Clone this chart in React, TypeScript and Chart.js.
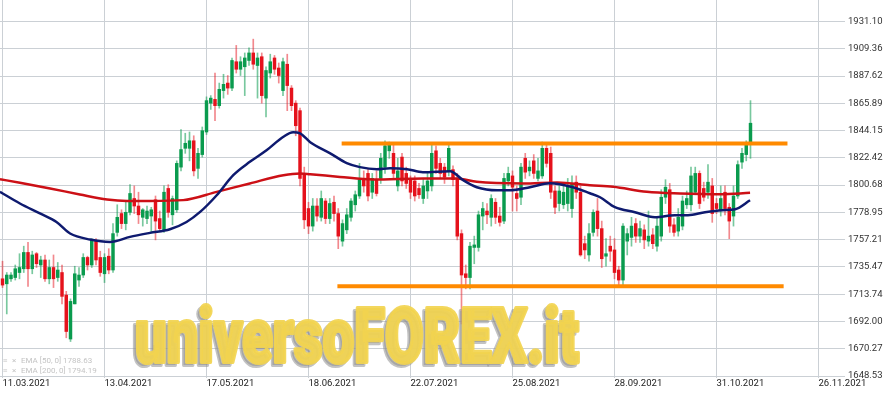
import React, { useEffect, useRef } from 'react';
import { Chart, registerables } from 'chart.js';

Chart.register(...registerables);

// ---- data ----
const dateTickIdx = [0, 24, 48, 72, 96, 120, 144, 168, 192];
const dateLabels = ['11.03.2021', '13.04.2021', '17.05.2021', '18.06.2021', '22.07.2021', '25.08.2021', '28.09.2021', '31.10.2021', '26.11.2021'];
const priceTicks = [1648.53, 1670.27, 1692.0, 1713.74, 1735.47, 1757.21, 1778.95, 1800.68, 1822.42, 1844.15, 1865.89, 1887.62, 1909.36, 1931.1];

const opens = [
  1726, 1722, 1726, 1727, 1731, 1734, 1747, 1734, 1746, 1737,
  1741, 1726, 1735, 1727, 1731, 1713, 1678, 1706, 1725, 1729,
  1743, 1737, 1756, 1743, 1730, 1744, 1733, 1763, 1778, 1770,
  1779, 1790, 1784, 1775, 1774, 1776, 1789, 1774, 1765, 1798,
  1777, 1781, 1815, 1830, 1830, 1836, 1814, 1825, 1843, 1866,
  1869, 1864, 1876, 1882, 1878, 1899, 1893, 1895, 1900, 1906,
  1896, 1903, 1870, 1890, 1902, 1894, 1876, 1897, 1878, 1866,
  1860, 1810, 1782, 1768, 1784, 1775, 1788, 1774, 1787, 1778,
  1756, 1765, 1775, 1785, 1792, 1806, 1810, 1795, 1805, 1806,
  1815, 1828, 1826, 1800, 1823, 1810, 1806, 1804, 1798, 1790,
  1796, 1800, 1828, 1818, 1815, 1812, 1813, 1806, 1762, 1730,
  1727, 1751, 1751, 1776, 1780, 1775, 1787, 1776, 1772, 1804,
  1808, 1794, 1791, 1822, 1812, 1820, 1806, 1808, 1830, 1826,
  1796, 1786, 1785, 1786, 1782, 1803, 1795, 1754, 1745, 1763,
  1780, 1766, 1744, 1752, 1749, 1733, 1725, 1756, 1759, 1770,
  1760, 1765, 1756, 1761, 1752, 1760, 1791, 1797, 1769, 1764,
  1768, 1785, 1785, 1795, 1810, 1798, 1795, 1800, 1786, 1781,
  1795, 1783, 1776, 1792, 1819, 1825, 1834,
];
const highs = [
  1740, 1731, 1731, 1737, 1746, 1752, 1755, 1748, 1747, 1744,
  1745, 1741, 1745, 1739, 1737, 1716, 1710, 1736, 1735, 1746,
  1744, 1758, 1758, 1748, 1746, 1750, 1770, 1785, 1781, 1788,
  1801, 1800, 1795, 1782, 1784, 1783, 1792, 1780, 1800, 1801,
  1792, 1820, 1845, 1842, 1843, 1840, 1830, 1847, 1871, 1872,
  1890, 1882, 1889, 1888, 1902, 1912, 1903, 1906, 1910, 1917,
  1906, 1906, 1895, 1905, 1904, 1898, 1902, 1905, 1880, 1868,
  1862, 1815, 1787, 1790, 1790, 1796, 1790, 1790, 1792, 1782,
  1773, 1782, 1790, 1796, 1818, 1812, 1814, 1810, 1812, 1826,
  1836, 1835, 1833, 1822, 1826, 1815, 1808, 1808, 1802, 1806,
  1810, 1834, 1832, 1822, 1818, 1834, 1816, 1810, 1765, 1737,
  1755, 1760, 1780, 1787, 1786, 1793, 1790, 1783, 1810, 1815,
  1812, 1800, 1818, 1826, 1820, 1825, 1822, 1835, 1834, 1831,
  1800, 1800, 1800, 1806, 1808, 1808, 1800, 1760, 1770, 1781,
  1790, 1772, 1758, 1760, 1758, 1736, 1770, 1766, 1775, 1774,
  1772, 1769, 1780, 1766, 1775, 1797, 1805, 1802, 1774, 1782,
  1792, 1796, 1815, 1815, 1812, 1803, 1817, 1806, 1790, 1800,
  1800, 1786, 1800, 1820, 1830, 1836, 1868,
];
const lows = [
  1719, 1698, 1724, 1725, 1726, 1731, 1720, 1730, 1735, 1727,
  1724, 1722, 1719, 1724, 1706, 1679, 1676, 1706, 1720, 1727,
  1733, 1735, 1737, 1728, 1723, 1730, 1731, 1760, 1766, 1765,
  1777, 1778, 1770, 1768, 1770, 1763, 1757, 1764, 1763, 1775,
  1769, 1779, 1812, 1826, 1820, 1808, 1806, 1823, 1841, 1861,
  1852, 1862, 1870, 1873, 1876, 1890, 1888, 1872, 1896, 1893,
  1870, 1866, 1855, 1886, 1889, 1882, 1872, 1860, 1860, 1840,
  1800, 1766, 1762, 1764, 1772, 1772, 1770, 1770, 1772, 1750,
  1752, 1762, 1772, 1780, 1790, 1795, 1788, 1790, 1792, 1802,
  1810, 1822, 1806, 1796, 1800, 1798, 1790, 1788, 1790, 1786,
  1790, 1796, 1810, 1806, 1802, 1808, 1800, 1757, 1690, 1718,
  1718, 1738, 1748, 1765, 1770, 1768, 1770, 1768, 1770, 1800,
  1780, 1780, 1785, 1806, 1808, 1806, 1804, 1806, 1815, 1790,
  1778, 1780, 1782, 1780, 1775, 1790, 1744, 1742, 1740, 1760,
  1760, 1735, 1736, 1740, 1726, 1720, 1721, 1745, 1752, 1755,
  1755, 1750, 1752, 1750, 1748, 1756, 1786, 1763, 1760, 1760,
  1765, 1782, 1780, 1793, 1782, 1788, 1790, 1771, 1778, 1776,
  1777, 1758, 1768, 1790, 1814, 1820, 1822,
];
const closes = [
  1721, 1729, 1729, 1734, 1735, 1747, 1734, 1745, 1738, 1741,
  1726, 1735, 1726, 1733, 1712, 1684, 1708, 1730, 1729, 1743,
  1737, 1757, 1741, 1731, 1743, 1733, 1762, 1775, 1770, 1779,
  1794, 1784, 1777, 1781, 1780, 1781, 1772, 1766, 1795, 1779,
  1790, 1818, 1829, 1834, 1836, 1812, 1826, 1844, 1868, 1870,
  1864, 1877, 1881, 1878, 1900, 1893, 1899, 1902, 1906, 1897,
  1902, 1872, 1892, 1899, 1893, 1888, 1899, 1880, 1864, 1848,
  1806, 1773, 1768, 1784, 1776, 1790, 1774, 1786, 1778, 1760,
  1770, 1777, 1788, 1793, 1805, 1800, 1792, 1806, 1794, 1822,
  1832, 1833, 1810, 1812, 1804, 1802, 1795, 1792, 1793, 1800,
  1804, 1826, 1814, 1810, 1807, 1830, 1805, 1760, 1729, 1727,
  1752, 1753, 1777, 1782, 1777, 1790, 1775, 1771, 1806, 1810,
  1799, 1790, 1815, 1811, 1815, 1810, 1812, 1830, 1818, 1795,
  1783, 1796, 1795, 1800, 1802, 1795, 1745, 1749, 1762, 1779,
  1766, 1742, 1746, 1748, 1731, 1725, 1768, 1762, 1768, 1760,
  1766, 1757, 1760, 1754, 1768, 1791, 1799, 1768, 1763, 1775,
  1788, 1790, 1808, 1810, 1786, 1791, 1803, 1778, 1782, 1790,
  1782, 1772, 1792, 1817, 1826, 1833, 1850,
];

const ema50Idx = [-0.6, 4.1, 8.8, 12.7, 15.9, 20.6, 25.3, 30, 34.7, 39.4, 43.3, 46.5, 50.4, 54.3, 58.2, 62.2, 66.1, 68.4, 70, 72.4, 77, 81, 84.1, 88.1, 91.2, 95.2, 98.9, 105.3, 108.4, 111.6, 116.4, 119.4, 124.1, 128.8, 134.2, 138.2, 140.6, 144.1, 148.8, 153.5, 158.2, 161.3, 165.3, 169.3, 172.4, 175.9];
const ema50Val = [1795.3, 1786.0, 1778.1, 1771.3, 1762.1, 1757.3, 1755.4, 1759.4, 1762.6, 1765.5, 1771.3, 1779.3, 1792.6, 1808.6, 1819.2, 1828.6, 1839.2, 1842.7, 1841.9, 1834.9, 1826.2, 1818.2, 1815.0, 1813.4, 1814.2, 1813.4, 1811.0, 1811.8, 1804.6, 1799.0, 1796.6, 1796.6, 1799.0, 1802.2, 1799.0, 1794.2, 1791.0, 1783.1, 1779.1, 1775.1, 1776.7, 1776.7, 1779.1, 1780.7, 1781.5, 1788.6];

const ema200Idx = [-0.6, 4.1, 11.2, 18.2, 24.6, 29.3, 34.7, 42.5, 50.4, 58.2, 66.1, 70, 72.4, 79.4, 87.2, 98.9, 106.9, 111.6, 122.5, 130.5, 138.2, 143.7, 151.6, 159.4, 168.8, 175.9];
const ema200Val = [1805.4, 1802.5, 1798.0, 1793.2, 1789.2, 1788.1, 1788.1, 1788.7, 1795.3, 1802.0, 1808.6, 1810.0, 1809.4, 1807.2, 1805.2, 1806.0, 1806.0, 1803.3, 1802.0, 1802.8, 1800.6, 1799.3, 1795.3, 1794.0, 1793.4, 1794.5];

const resistanceIdx = [79.8, 184.7];
const resistanceLevel = 1833.9;
const supportIdx = [78.8, 183.8];
const supportLevel = 1720.1;

const legendLines = ['EMA [50, 0] 1788.63', 'EMA [200, 0] 1794.19'];
const watermarkText = 'universoFOREX.it';

// ---- styling ----
const GREEN = '#0a9b4e';
const GREEN_WICK = 'rgba(10,155,78,0.55)';
const RED = '#e5121c';
const RED_WICK = 'rgba(229,18,28,0.5)';
const GRID = '#cbd0d5';
const FONT = 'Roboto';

const overlayPlugin = {
  id: 'overlay',
  afterDraw(chart: any) {
    const ctx = chart.ctx;
    // legend texts bottom-left
    ctx.save();
    ctx.font = `8px ${FONT}`;
    ctx.fillStyle = '#c4c4c4';
    ctx.textBaseline = 'middle';
    ctx.textAlign = 'left';
    legendLines.forEach((t, k) => {
      const y = 361 + k * 10;
      ctx.fillText('\u2261', 3, y);
      ctx.fillText('\u00d7', 12, y);
      ctx.fillText(t, 21, y);
    });
    ctx.restore();

    // watermark
    ctx.save();
    ctx.font = '900 72px Roboto, "Liberation Sans", "DejaVu Sans", sans-serif';
    ctx.textBaseline = 'alphabetic';
    ctx.textAlign = 'left';
    const w = ctx.measureText(watermarkText).width;
    const sx = 444 / w;
    ctx.translate(135, 362);
    ctx.scale(sx, 1.05);
    ctx.lineJoin = 'round';
    ctx.globalAlpha = 0.55;
    ctx.fillStyle = '#8f8f8f';
    ctx.strokeStyle = '#8f8f8f';
    ctx.lineWidth = 4;
    ctx.fillText(watermarkText, -3 / sx, 3);
    ctx.strokeText(watermarkText, -3 / sx, 3);
    ctx.globalAlpha = 0.92;
    ctx.fillStyle = '#f2d44f';
    ctx.strokeStyle = '#f2d44f';
    ctx.fillText(watermarkText, 0, 0);
    ctx.strokeText(watermarkText, 0, 0);
    ctx.restore();
  },
};

export default function App() {
  const ref = useRef<HTMLCanvasElement | null>(null);

  useEffect(() => {
    document.body.style.margin = '0';
    const idx = closes.map((_, i) => i);
    const up = idx.map((i) => closes[i] >= opens[i]);
    const chart = new Chart(ref.current as HTMLCanvasElement, {
      type: 'bar',
      data: {
        datasets: [
          {
            type: 'bar',
            label: 'wick',
            data: idx.map((i) => ({ x: i, y: [lows[i], highs[i]] })) as any,
            backgroundColor: up.map((u) => (u ? GREEN_WICK : RED_WICK)),
            barThickness: 1,
            grouped: false,
            order: 4,
          } as any,
          {
            type: 'bar',
            label: 'body',
            data: idx.map((i) => ({ x: i, y: [opens[i], closes[i]] })) as any,
            backgroundColor: up.map((u) => (u ? GREEN : RED)),
            barThickness: 2.8,
            minBarLength: 1,
            grouped: false,
            order: 3,
          } as any,
          {
            type: 'line',
            label: 'EMA 200',
            data: ema200Idx.map((x, k) => ({ x, y: ema200Val[k] })),
            borderColor: '#cc1016',
            borderWidth: 2.5,
            pointRadius: 0,
            cubicInterpolationMode: 'monotone',
            order: 2,
          } as any,
          {
            type: 'line',
            label: 'EMA 50',
            data: ema50Idx.map((x, k) => ({ x, y: ema50Val[k] })),
            borderColor: '#0e1a6f',
            borderWidth: 2.5,
            pointRadius: 0,
            cubicInterpolationMode: 'monotone',
            order: 1,
          } as any,
          {
            type: 'line',
            label: 'resistance',
            data: resistanceIdx.map((x) => ({ x, y: resistanceLevel })),
            borderColor: '#ff8a00',
            borderWidth: 4,
            pointRadius: 0,
            borderCapStyle: 'butt',
            order: 0,
          } as any,
          {
            type: 'line',
            label: 'support',
            data: supportIdx.map((x) => ({ x, y: supportLevel })),
            borderColor: '#ff8a00',
            borderWidth: 4,
            pointRadius: 0,
            borderCapStyle: 'butt',
            order: 0,
          } as any,
        ],
      },
      options: {
        responsive: false,
        animation: false,
        devicePixelRatio: 1,
        events: [],
        layout: { padding: 0 },
        plugins: { legend: { display: false }, tooltip: { enabled: false } },
        scales: {
          x: {
            type: 'linear',
            min: -0.59,
            max: 197.06,
            offset: false,
            border: { display: false },
            grid: { color: GRID, lineWidth: 1, offset: false, drawTicks: true, tickLength: 2 },
            ticks: {
              autoSkip: false,
              maxRotation: 0,
              minRotation: 0,
              align: 'start',
              padding: 0,
              color: '#222',
              font: { family: FONT, size: 9.5 },
              callback: (v: any) => {
                const k = dateTickIdx.indexOf(Number(v));
                return k >= 0 ? dateLabels[k] : '';
              },
            },
            afterBuildTicks: (s: any) => {
              s.ticks = dateTickIdx.map((v) => ({ value: v }));
            },
            afterFit: (s: any) => {
              s.height = 19;
              s.paddingLeft = 0;
              s.paddingRight = 0;
            },
          } as any,
          y: {
            type: 'linear',
            position: 'right',
            min: 1648.53,
            max: 1948.2,
            border: { display: false },
            grid: { color: GRID, lineWidth: 1, drawTicks: true, tickLength: 5 },
            ticks: {
              autoSkip: false,
              padding: 3,
              color: '#333',
              font: { family: FONT, size: 9.5 },
              callback: (v: any) => Number(v).toFixed(2),
            },
            afterBuildTicks: (s: any) => {
              s.ticks = priceTicks.map((v) => ({ value: v }));
            },
            afterFit: (s: any) => {
              s.width = 50;
              s.paddingTop = 0;
              s.paddingBottom = 0;
            },
          } as any,
        },
      },
      plugins: [overlayPlugin],
    } as any);
    return () => chart.destroy();
  }, []);

  return (
    <div style={{ position: 'fixed', left: 0, top: 0, width: 890, height: 395, background: '#fff' }}>
      <canvas ref={ref} width={890} height={395} style={{ display: 'block', width: 890, height: 395 }} />
    </div>
  );
}
